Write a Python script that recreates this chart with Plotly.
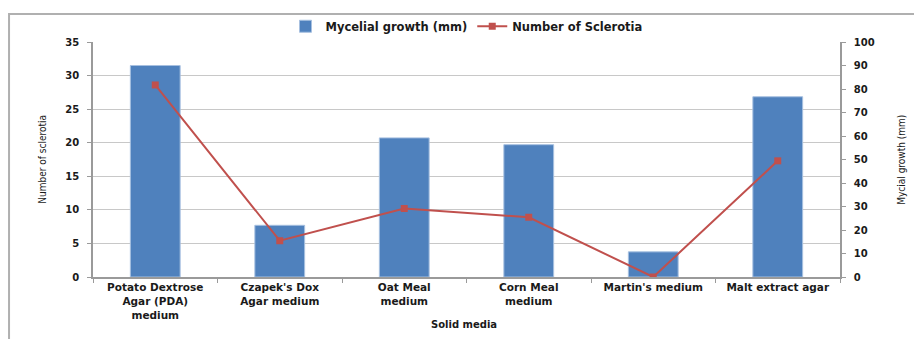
import plotly.graph_objects as go

# Solid media tested and the measured responses
media = [
    "Potato Dextrose<br>Agar (PDA)<br>medium",
    "Czapek's Dox<br>Agar medium",
    "Oat Meal<br>medium",
    "Corn Meal<br>medium",
    "Martin's medium",
    "Malt extract agar",
]
mycelial_growth_mm = [90.0, 22.0, 59.2, 56.3, 10.7, 76.7]
sclerotia_count = [28.6, 5.4, 10.2, 8.9, 0.0, 17.3]

left_ticks = [0, 5, 10, 15, 20, 25, 30, 35]
right_ticks = [0, 10, 20, 30, 40, 50, 60, 70, 80, 90, 100]

BAR_BLUE = "#4F81BD"
LINE_RED = "#C0504D"
AXIS_GREY = "#9a9a9a"
GRID_GREY = "#c8c8c8"
TEXT = "#1a1a1a"
BOLD = dict(family="DejaVu Sans", size=10, color=TEXT, weight="bold")
CAT_FONT = dict(family="DejaVu Sans", size=10.5, color=TEXT, weight="bold")
NARROW = dict(family="DejaVu Sans Condensed, Liberation Sans Narrow, Roboto", size=10, color=TEXT)

fig = go.Figure()

fig.add_trace(go.Bar(
    x=media,
    y=mycelial_growth_mm,
    name="Mycelial growth (mm)",
    marker=dict(color=BAR_BLUE, line=dict(color="#a7c0e0", width=1)),
    yaxis="y",
))

fig.add_trace(go.Scatter(
    x=media,
    y=sclerotia_count,
    name="Number of Sclerotia",
    mode="lines+markers",
    line=dict(color=LINE_RED, width=2),
    marker=dict(symbol="square", size=7, color=LINE_RED),
    yaxis="y2",
))

fig.update_layout(
    width=914,
    height=339,
    margin=dict(l=93, r=74, t=38, b=62),
    paper_bgcolor="white",
    plot_bgcolor="white",
    bargap=0.6,
    showlegend=True,
    legend=dict(
        orientation="h",
        x=0.5, xanchor="center",
        y=1.067, yanchor="middle",
        font=dict(family="DejaVu Sans", size=11.5, color=TEXT, weight="bold"),
        itemwidth=30,
        tracegroupgap=0,
        bgcolor="rgba(0,0,0,0)",
    ),
    xaxis=dict(
        type="category",
        tickson="boundaries",
        ticks="outside",
        ticklen=4,
        tickcolor=AXIS_GREY,
        showline=True,
        linecolor=AXIS_GREY,
        linewidth=1.5,
        showgrid=False,
        tickfont=CAT_FONT,
        tickangle=0,
    ),
    # right-hand axis: mycelial growth (bars)
    yaxis=dict(
        side="right",
        range=[0, 100],
        tickvals=right_ticks,
        ticks="outside",
        ticklen=4,
        tickcolor=AXIS_GREY,
        showline=True,
        linecolor=AXIS_GREY,
        linewidth=1.5,
        showgrid=False,
        zeroline=False,
        tickfont=BOLD,
        ticklabelstandoff=6,
    ),
    # left-hand axis: sclerotia count (line), carries the grid
    yaxis2=dict(
        overlaying="y",
        side="left",
        range=[0, 35],
        tickvals=left_ticks,
        ticks="outside",
        ticklen=4,
        tickcolor=AXIS_GREY,
        showline=True,
        linecolor=AXIS_GREY,
        linewidth=1.5,
        showgrid=True,
        gridcolor=GRID_GREY,
        gridwidth=1,
        zeroline=False,
        tickfont=BOLD,
        ticklabelstandoff=6,
    ),
    annotations=[
        dict(text="Number of sclerotia", textangle=-90, xref="paper", yref="paper",
             x=-0.068, y=0.5, xanchor="center", yanchor="middle",
             showarrow=False, font=NARROW),
        dict(text="Mycial growth (mm)", textangle=-90, xref="paper", yref="paper",
             x=1.082, y=0.5, xanchor="center", yanchor="middle",
             showarrow=False, font=NARROW),
        dict(text="Solid media", xref="paper", yref="paper",
             x=0.497, y=-0.203, xanchor="center", yanchor="middle",
             showarrow=False, font=BOLD),
    ],
    shapes=[
        dict(type="rect", xref="paper", yref="paper",
             x0=-0.1124, x1=1.15, y0=-0.35, y1=1.119,
             line=dict(color="#b0b0b0", width=2), layer="below"),
    ],
)

fig.write_html("out.html")
